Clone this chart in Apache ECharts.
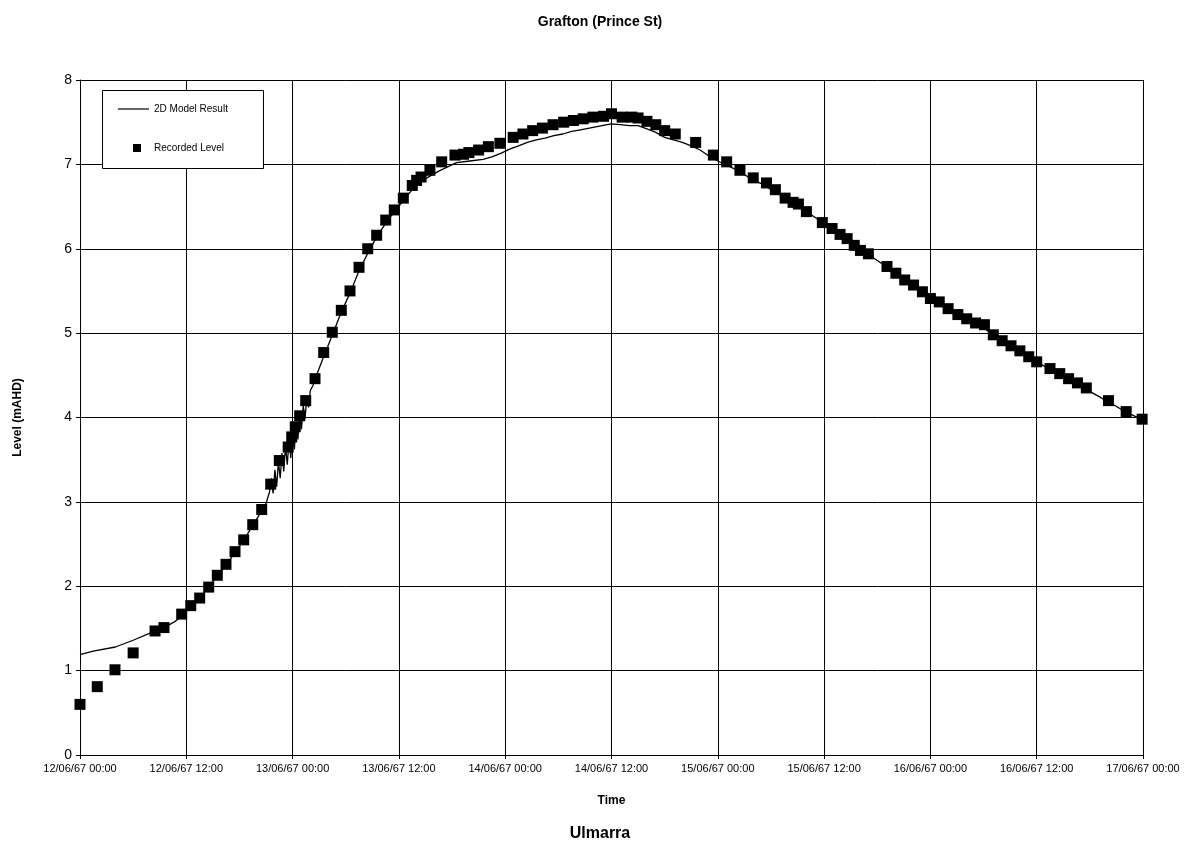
<!DOCTYPE html>
<html>
<head>
<meta charset="utf-8">
<script src="https://cdn.jsdelivr.net/npm/echarts@6/dist/echarts.min.js"></script>
<style>html,body{margin:0;padding:0;background:#fff;}#c{width:1200px;height:849px;}</style>
</head>
<body>
<div id="c"></div>
<script>
// Hours since 12/06/67 00:00
var xTickLabels = ['12/06/67 00:00','12/06/67 12:00','13/06/67 00:00','13/06/67 12:00','14/06/67 00:00','14/06/67 12:00','15/06/67 00:00','15/06/67 12:00','16/06/67 00:00','16/06/67 12:00','17/06/67 00:00'];
var yTicks = [0,1,2,3,4,5,6,7,8];

var modelHours = [0,1.5,4,6,8.5,9.5,10.7,11.5,12.5,13.5,14.5,15.5,16.5,17.5,18.5,19.5,20.5,21.0,21.4,
  21.6,21.8,22.0,22.2,22.4,22.6,22.8,23.0,23.2,23.4,23.6,23.8,24.0,24.2,24.4,24.6,24.8,25.0,25.2,25.4,25.6,25.8,26.0,26.3,26.7,
  27.5,28.5,29.5,30.5,31.5,32.5,33.5,34.5,35.5,36.5,37.5,38.5,39.5,40.5,41.5,42.5,44.0,45.5,46.5,47.5,48.5,49.5,50.5,51.5,52.5,53.5,54.5,55.5,56.5,57.5,58.5,59.5,60,
  61,62,63,64,65,66,67,68,69,70,71,72,73,74,75,76,77,78,79,80,81,82,83,84,85,86,87,88,89,90,91,92,93,94,95,96,97,98,99,100,101,102,103,104,105,106,107,108,109,110,111,112,113,114,115,116,117,118,119,120];
var modelLevels = [1.19,1.23,1.28,1.36,1.47,1.51,1.58,1.65,1.76,1.86,1.99,2.12,2.25,2.40,2.55,2.72,2.89,2.98,3.12,
  3.28,3.10,3.38,3.18,3.48,3.28,3.58,3.36,3.66,3.44,3.74,3.52,3.84,3.62,3.95,3.74,4.05,3.86,4.14,3.98,4.24,4.12,4.32,4.38,4.50,
  4.72,4.98,5.25,5.48,5.74,5.95,6.14,6.30,6.44,6.57,6.70,6.80,6.86,6.92,6.97,7.02,7.04,7.06,7.09,7.13,7.18,7.22,7.26,7.29,7.31,7.34,7.36,7.39,7.41,7.43,7.45,7.47,7.48,
  7.47,7.46,7.46,7.42,7.38,7.32,7.29,7.26,7.22,7.17,7.10,7.04,6.99,6.94,6.88,6.81,6.77,6.70,6.64,6.57,6.51,6.44,6.37,6.30,6.23,6.15,6.08,6.00,5.93,5.86,5.79,5.71,5.64,5.56,5.48,5.41,5.35,5.28,5.22,5.16,5.11,5.06,4.99,4.92,4.86,4.79,4.72,4.66,4.60,4.54,4.48,4.42,4.36,4.31,4.25,4.19,4.13,4.07,4.02,3.97];

var recordedHours = [0,1.95,3.95,6.0,8.47,9.48,11.48,12.5,13.51,14.53,15.5,16.48,17.5,18.48,19.5,20.51,21.53,22.5,23.5,23.9,24.3,24.8,
  25.48,26.53,27.51,28.48,29.5,30.48,31.5,32.48,33.49,34.51,35.48,36.5,37.51,38.0,38.5,39.5,40.83,42.33,43.3,43.9,45.0,46.1,47.4,48.9,50.0,51.1,52.2,53.4,54.6,55.7,56.8,57.9,59.1,60.0,
  61.2,62.3,63.0,64.0,65.0,66.0,67.2,69.5,71.5,73.0,74.5,76.0,77.5,78.5,79.6,80.5,81.1,82.0,83.8,84.9,85.8,86.6,87.4,88.1,89.0,
  91.1,92.1,93.1,94.1,95.1,96.0,97.0,98.0,99.1,100.1,101.1,102.1,103.1,104.1,105.1,106.1,107.1,108.0,109.5,110.6,111.6,112.6,113.6,116.1,118.1,119.9];
var recordedLevels = [0.60,0.81,1.01,1.21,1.47,1.51,1.67,1.77,1.86,1.99,2.13,2.26,2.41,2.55,2.73,2.91,3.21,3.49,3.65,3.77,3.89,4.02,
  4.20,4.46,4.77,5.01,5.27,5.50,5.78,6.00,6.16,6.34,6.46,6.60,6.75,6.81,6.85,6.93,7.03,7.11,7.12,7.14,7.17,7.21,7.25,7.32,7.36,7.40,7.43,7.47,7.50,7.52,7.54,7.56,7.57,7.60,
  7.56,7.56,7.55,7.51,7.47,7.40,7.36,7.26,7.11,7.03,6.93,6.84,6.78,6.70,6.60,6.55,6.53,6.44,6.31,6.24,6.17,6.12,6.04,5.98,5.94,
  5.79,5.71,5.63,5.57,5.49,5.41,5.37,5.29,5.22,5.17,5.12,5.10,4.98,4.91,4.85,4.79,4.72,4.66,4.58,4.52,4.46,4.41,4.35,4.20,4.07,3.98];

function zip(a, b) { var r = []; for (var i = 0; i < a.length; i++) r.push([a[i], b[i]]); return r; }

var FONT = 'Liberation Sans, Arial, sans-serif';
var chart = echarts.init(document.getElementById('c'), null, {renderer: 'canvas'});
chart.setOption({
  animation: false,
  backgroundColor: '#ffffff',
  textStyle: {fontFamily: FONT},
  title: [
    {text: 'Grafton (Prince St)', left: 'center', top: 10, textStyle: {fontFamily: FONT, fontSize: 14, fontWeight: 'bold', color: '#000'}},
    {text: 'Ulmarra', left: 'center', top: 821, textStyle: {fontFamily: FONT, fontSize: 16, fontWeight: 'bold', color: '#000'}}
  ],
  grid: {left: 80, right: 57, top: 80, bottom: 94, containLabel: false},
  graphic: [{
    type: 'rect', left: 102, top: 90, z: 10,
    shape: {width: 161, height: 78},
    style: {fill: '#fff', stroke: '#000', lineWidth: 1}
  }],
  legend: [
    {
      data: ['2D Model Result'], orient: 'vertical', left: 118, top: 104, z: 20,
      itemWidth: 31, itemHeight: 14, padding: 0,
      icon: 'path://M0,6 L31,6 L31,7.2 L0,7.2 Z',
      textStyle: {fontFamily: FONT, fontSize: 10, color: '#000'},
      itemStyle: {color: '#000', opacity: 1}
    },
    {
      data: ['Recorded Level'], orient: 'vertical', left: 133, top: 143, z: 20,
      itemWidth: 8, itemHeight: 8, padding: 0, icon: 'rect',
      textStyle: {fontFamily: FONT, fontSize: 10, color: '#000', padding: [0, 0, 0, 8]},
      itemStyle: {color: '#000', opacity: 1}
    }
  ],
  xAxis: {
    type: 'value', min: 0, max: 120, interval: 12,
    name: 'Time', nameLocation: 'middle', nameGap: 40,
    nameTextStyle: {fontFamily: FONT, fontSize: 12, fontWeight: 'bold', color: '#000'},
    axisLine: {show: true, onZero: false, lineStyle: {color: '#000', width: 1}},
    axisTick: {show: true, length: 4, lineStyle: {color: '#000'}},
    axisLabel: {fontFamily: FONT, fontSize: 11, color: '#000', margin: 8,
      formatter: function (v) { return xTickLabels[Math.round(v / 12)] || ''; }},
    splitLine: {show: true, lineStyle: {color: '#000', width: 1}}
  },
  yAxis: {
    type: 'value', min: 0, max: 8, interval: 1,
    name: 'Level (mAHD)', nameLocation: 'middle', nameGap: 56, nameRotate: 90,
    nameTextStyle: {fontFamily: FONT, fontSize: 12, fontWeight: 'bold', color: '#000'},
    axisLine: {show: true, lineStyle: {color: '#000', width: 1}},
    axisTick: {show: true, length: 4, lineStyle: {color: '#000'}},
    axisLabel: {fontFamily: FONT, fontSize: 14, color: '#000', margin: 8,
      formatter: function (v) { return yTicks.indexOf(v) >= 0 ? String(v) : ''; }},
    splitLine: {show: true, lineStyle: {color: '#000', width: 1}}
  },
  series: [
    {
      name: '2D Model Result', type: 'line', data: zip(modelHours, modelLevels),
      symbol: 'none', smooth: false, z: 3,
      lineStyle: {color: '#000', width: 1.3},
      itemStyle: {color: '#000'}
    },
    {
      name: 'Recorded Level', type: 'scatter', data: zip(recordedHours, recordedLevels),
      symbol: 'rect', symbolSize: 11, z: 4,
      itemStyle: {color: '#000', opacity: 1}
    }
  ]
});
</script>
</body>
</html>
